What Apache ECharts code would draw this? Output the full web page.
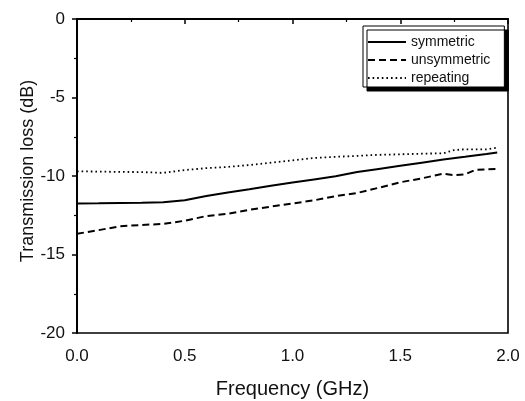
<!DOCTYPE html>
<html>
<head>
<meta charset="utf-8">
<script src="https://cdn.jsdelivr.net/npm/echarts@6/dist/echarts.min.js"></script>
<style>
html,body{margin:0;padding:0;background:#fff;}
#chart{width:525px;height:401px;}
</style>
</head>
<body>
<div id="chart"></div>
<script>
const seriesNames = ['symmetric', 'unsymmetric', 'repeating'];

const symmetricFreq = [0, 0.1, 0.2, 0.3, 0.4, 0.5, 0.6, 0.7, 0.8, 0.9, 1.0, 1.1, 1.2, 1.3, 1.4, 1.5, 1.6, 1.7, 1.8, 1.9, 1.95];
const symmetricLoss = [-11.75, -11.74, -11.72, -11.7, -11.67, -11.55, -11.28, -11.05, -10.85, -10.62, -10.42, -10.22, -10.02, -9.75, -9.55, -9.35, -9.15, -8.95, -8.78, -8.6, -8.5];

const unsymmetricFreq = [0, 0.1, 0.2, 0.3, 0.4, 0.5, 0.6, 0.7, 0.8, 0.9, 1.0, 1.1, 1.2, 1.3, 1.4, 1.5, 1.6, 1.7, 1.75, 1.8, 1.85, 1.95];
const unsymmetricLoss = [-13.68, -13.45, -13.2, -13.12, -13.05, -12.85, -12.55, -12.4, -12.15, -11.95, -11.75, -11.55, -11.28, -11.08, -10.75, -10.4, -10.15, -9.85, -9.95, -9.9, -9.6, -9.55];

const repeatingFreq = [0, 0.1, 0.2, 0.3, 0.4, 0.5, 0.6, 0.7, 0.8, 0.9, 1.0, 1.1, 1.2, 1.3, 1.4, 1.5, 1.6, 1.7, 1.75, 1.8, 1.9, 1.95];
const repeatingLoss = [-9.7, -9.72, -9.74, -9.75, -9.8, -9.62, -9.5, -9.42, -9.3, -9.15, -9.0, -8.85, -8.78, -8.72, -8.65, -8.62, -8.58, -8.55, -8.35, -8.3, -8.3, -8.2];

const xTicks = [0, 0.5, 1.0, 1.5, 2.0];
const yTicks = [-20, -15, -10, -5, 0];

function pairs(xs, ys) { return xs.map((x, i) => [x, ys[i]]); }

const FONT = 'Liberation Sans, Arial, Helvetica, sans-serif';
const chart = echarts.init(document.getElementById('chart'), null, {renderer: 'canvas'});

const lineStyles = [
  {color: '#000', width: 2, type: 'solid'},
  {color: '#000', width: 2, type: [7, 4]},
  {color: '#000', width: 1.8, type: [1.6, 3]}
];
const dataSets = [
  pairs(symmetricFreq, symmetricLoss),
  pairs(unsymmetricFreq, unsymmetricLoss),
  pairs(repeatingFreq, repeatingLoss)
];

chart.setOption({
  animation: false,
  backgroundColor: '#fff',
  textStyle: {fontFamily: FONT, color: '#111'},
  grid: {
    left: 77, right: 17, top: 19, bottom: 68,
    containLabel: false, outerBoundsMode: 'none',
    show: true, borderColor: '#000', borderWidth: 1.6, backgroundColor: 'transparent'
  },
  legend: {
    orient: 'vertical',
    left: 363, top: 26,
    padding: [9, 14, 2, 4],
    itemWidth: 38, itemHeight: 12, itemGap: 4,
    backgroundColor: '#fff',
    borderColor: '#000', borderWidth: 1,
    shadowColor: '#000', shadowBlur: 0, shadowOffsetX: 4, shadowOffsetY: 4,
    itemStyle: {opacity: 0},
    textStyle: {fontFamily: FONT, fontSize: 14, color: '#111'},
    data: seriesNames
  },
  xAxis: {
    type: 'value', min: xTicks[0], max: xTicks[xTicks.length - 1], interval: 0.5,
    name: 'Frequency (GHz)', nameLocation: 'middle', nameGap: 46, nameMoveOverlap: false,
    nameTextStyle: {fontFamily: FONT, fontSize: 20, color: '#111'},
    axisLine: {lineStyle: {color: '#000', width: 2}},
    axisTick: {show: true, inside: false, length: 5, lineStyle: {color: '#000', width: 1.5}},
    minorTick: {show: true, splitNumber: 2, length: 3, lineStyle: {color: '#000', width: 1.2}},
    splitLine: {show: false},
    axisLabel: {fontFamily: FONT, fontSize: 17, color: '#111', margin: 15,
      formatter: v => v.toFixed(1)}
  },
  yAxis: {
    type: 'value', min: yTicks[0], max: yTicks[yTicks.length - 1], interval: 5,
    name: 'Transmission loss (dB)', nameLocation: 'middle', nameGap: 40, nameMoveOverlap: false,
    nameTextStyle: {fontFamily: FONT, fontSize: 18, color: '#111', padding: [0, 0, 0, 10]},
    axisLine: {lineStyle: {color: '#000', width: 2}},
    axisTick: {show: true, inside: false, length: 5, lineStyle: {color: '#000', width: 1.5}},
    minorTick: {show: true, splitNumber: 2, length: 3, lineStyle: {color: '#000', width: 1.2}},
    splitLine: {show: false},
    axisLabel: {fontFamily: FONT, fontSize: 17, color: '#111', margin: 12,
      formatter: v => String(v)}
  },
  series: seriesNames.map((name, i) => ({
    name: name,
    type: 'line',
    data: dataSets[i],
    symbol: 'none',
    smooth: false,
    color: '#000',
    lineStyle: lineStyles[i]
  }))
});
</script>
</body>
</html>
